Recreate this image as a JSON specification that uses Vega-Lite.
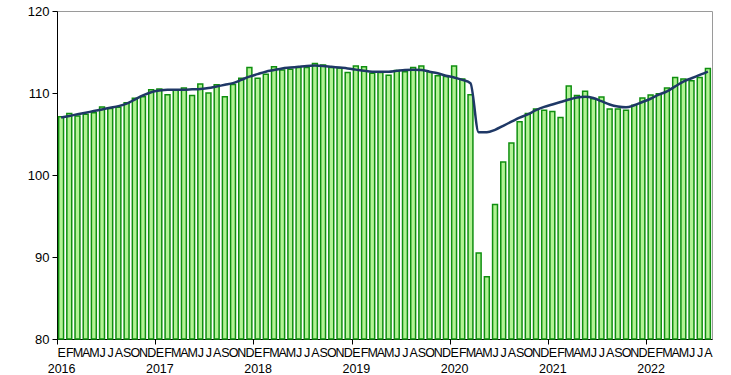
{
  "$schema": "https://vega.github.io/schema/vega-lite/v6.json",
  "autosize": "none",
  "width": 655,
  "height": 328,
  "padding": {"left": 57, "top": 11, "right": 19, "bottom": 36},
  "background": "white",
  "config": {
    "view": {"stroke": "#9a9a9a", "strokeWidth": 1},
    "font": "Liberation Sans",
    "axis": {"labelFont": "Liberation Sans", "labelColor": "black", "domainColor": "black", "tickColor": "black"}
  },
  "data": {
    "values": [
      {"m": "2016-01", "v": 107.1, "t": 107.0},
      {"m": "2016-02", "v": 107.5, "t": 107.2},
      {"m": "2016-03", "v": 107.2, "t": 107.4},
      {"m": "2016-04", "v": 107.4, "t": 107.6},
      {"m": "2016-05", "v": 107.6, "t": 107.8},
      {"m": "2016-06", "v": 108.3, "t": 108.0},
      {"m": "2016-07", "v": 108.1, "t": 108.2},
      {"m": "2016-08", "v": 108.25, "t": 108.4},
      {"m": "2016-09", "v": 108.8, "t": 108.7},
      {"m": "2016-10", "v": 109.35, "t": 109.2},
      {"m": "2016-11", "v": 109.55, "t": 109.7},
      {"m": "2016-12", "v": 110.4, "t": 110.1},
      {"m": "2017-01", "v": 110.5, "t": 110.3},
      {"m": "2017-02", "v": 109.8, "t": 110.4},
      {"m": "2017-03", "v": 110.4, "t": 110.4},
      {"m": "2017-04", "v": 110.6, "t": 110.4},
      {"m": "2017-05", "v": 109.7, "t": 110.45},
      {"m": "2017-06", "v": 111.1, "t": 110.5},
      {"m": "2017-07", "v": 110.0, "t": 110.6},
      {"m": "2017-08", "v": 111.0, "t": 110.8},
      {"m": "2017-09", "v": 109.55, "t": 111.0},
      {"m": "2017-10", "v": 111.05, "t": 111.2},
      {"m": "2017-11", "v": 111.8, "t": 111.6},
      {"m": "2017-12", "v": 113.1, "t": 112.0},
      {"m": "2018-01", "v": 111.8, "t": 112.3},
      {"m": "2018-02", "v": 112.3, "t": 112.6},
      {"m": "2018-03", "v": 113.2, "t": 112.8},
      {"m": "2018-04", "v": 112.8, "t": 113.0},
      {"m": "2018-05", "v": 112.9, "t": 113.1},
      {"m": "2018-06", "v": 113.1, "t": 113.2},
      {"m": "2018-07", "v": 113.1, "t": 113.3},
      {"m": "2018-08", "v": 113.6, "t": 113.35},
      {"m": "2018-09", "v": 113.4, "t": 113.3},
      {"m": "2018-10", "v": 113.1, "t": 113.2},
      {"m": "2018-11", "v": 113.05, "t": 113.1},
      {"m": "2018-12", "v": 112.5, "t": 113.0},
      {"m": "2019-01", "v": 113.3, "t": 112.85},
      {"m": "2019-02", "v": 113.2, "t": 112.7},
      {"m": "2019-03", "v": 112.4, "t": 112.6},
      {"m": "2019-04", "v": 112.5, "t": 112.6},
      {"m": "2019-05", "v": 112.15, "t": 112.6},
      {"m": "2019-06", "v": 112.75, "t": 112.7},
      {"m": "2019-07", "v": 112.6, "t": 112.8},
      {"m": "2019-08", "v": 113.1, "t": 112.85},
      {"m": "2019-09", "v": 113.3, "t": 112.8},
      {"m": "2019-10", "v": 112.6, "t": 112.6},
      {"m": "2019-11", "v": 112.1, "t": 112.4},
      {"m": "2019-12", "v": 112.0, "t": 112.1},
      {"m": "2020-01", "v": 113.3, "t": 111.9},
      {"m": "2020-02", "v": 111.7, "t": 111.6},
      {"m": "2020-03", "v": 109.8, "t": 111.2},
      {"m": "2020-04", "v": 90.5, "t": 105.2},
      {"m": "2020-05", "v": 87.6, "t": 105.2},
      {"m": "2020-06", "v": 96.4, "t": 105.5},
      {"m": "2020-07", "v": 101.6, "t": 106.0},
      {"m": "2020-08", "v": 103.9, "t": 106.5},
      {"m": "2020-09", "v": 106.5, "t": 107.0},
      {"m": "2020-10", "v": 107.5, "t": 107.4},
      {"m": "2020-11", "v": 108.05, "t": 107.9},
      {"m": "2020-12", "v": 107.9, "t": 108.3},
      {"m": "2021-01", "v": 107.75, "t": 108.6},
      {"m": "2021-02", "v": 107.0, "t": 108.9},
      {"m": "2021-03", "v": 110.85, "t": 109.2},
      {"m": "2021-04", "v": 109.7, "t": 109.45},
      {"m": "2021-05", "v": 110.2, "t": 109.55},
      {"m": "2021-06", "v": 109.3, "t": 109.4},
      {"m": "2021-07", "v": 109.5, "t": 109.0},
      {"m": "2021-08", "v": 108.05, "t": 108.6},
      {"m": "2021-09", "v": 108.05, "t": 108.35},
      {"m": "2021-10", "v": 107.9, "t": 108.25},
      {"m": "2021-11", "v": 108.5, "t": 108.5},
      {"m": "2021-12", "v": 109.4, "t": 108.9},
      {"m": "2022-01", "v": 109.75, "t": 109.3},
      {"m": "2022-02", "v": 109.9, "t": 109.8},
      {"m": "2022-03", "v": 110.6, "t": 110.2},
      {"m": "2022-04", "v": 111.9, "t": 110.8},
      {"m": "2022-05", "v": 111.7, "t": 111.4},
      {"m": "2022-06", "v": 111.5, "t": 111.8},
      {"m": "2022-07", "v": 111.9, "t": 112.2},
      {"m": "2022-08", "v": 113.0, "t": 112.6}
    ]
  },
  "encoding": {
    "x": {
      "field": "m",
      "type": "ordinal",
      "sort": null,
      "scale": {"type": "band", "paddingInner": 0.4, "paddingOuter": 0.2},
      "axis": {
        "title": null,
        "labelAngle": 0,
        "labelOverlap": false,
        "labelBound": false,
        "labelFlush": false,
        "labelFontSize": 12.5,
        "labelPadding": 2,
        "labelLineHeight": 16,
        "labelBaseline": "top",
        "tickOffset": -4.094,
        "labelOffset": 4.094,
        "tickSize": 5,
        "tickOpacity": {"condition": {"test": "substring(datum.value,5,7)=='01'", "value": 1}, "value": 0},
        "labelExpr": "substring(datum.value,5,7)=='01' ? ['E', substring(datum.value,0,4)] : substring('EFMAMJJASOND', toNumber(substring(datum.value,5,7))-1, toNumber(substring(datum.value,5,7)))"
      }
    }
  },
  "layer": [
    {
      "mark": {"type": "bar", "fill": "#b2f295", "stroke": "#0f8f0f", "strokeWidth": 1.5},
      "encoding": {
        "y": {
          "field": "v",
          "type": "quantitative",
          "scale": {"domain": [80, 120], "zero": false, "nice": false},
          "axis": {"title": null, "values": [80, 90, 100, 110, 120], "grid": false, "tickSize": 5, "labelFontSize": 13, "labelPadding": 3}
        },
        "y2": {"datum": 80}
      }
    },
    {
      "mark": {"type": "line", "color": "#1f3866", "strokeWidth": 2.5, "interpolate": "monotone"},
      "encoding": {
        "y": {"field": "t", "type": "quantitative"}
      }
    }
  ]
}
